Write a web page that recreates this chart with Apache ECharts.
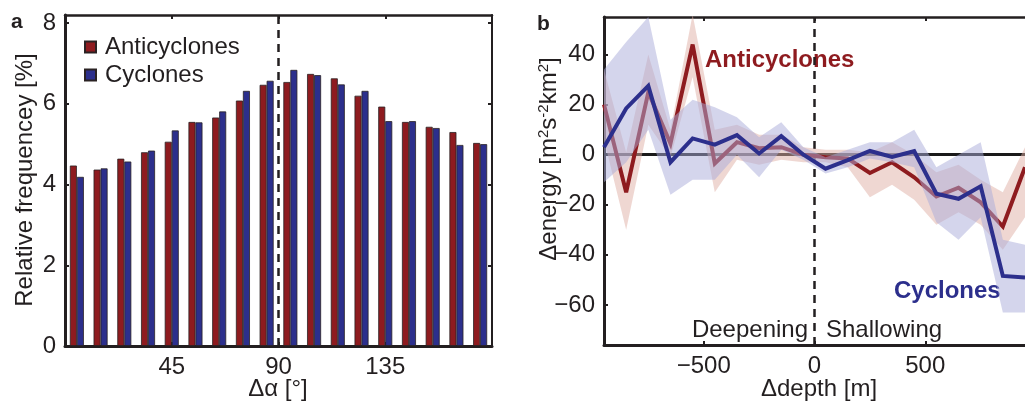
<!DOCTYPE html>
<html>
<head>
<meta charset="utf-8">
<script src="https://cdn.jsdelivr.net/npm/echarts@6/dist/echarts.min.js"></script>
<style>
  html, body { margin: 0; padding: 0; background: #fff; }
  #chart { width: 1025px; height: 403px; }
</style>
</head>
<body>
<div id="chart"></div>
<script>
  // panel a: orientation histogram, 10 degree bins
  const angleBins = ['5', '15', '25', '35', '45', '55', '65', '75', '85', '95', '105', '115', '125', '135', '145', '155', '165', '175'];
  const anticycFreq = [4.47, 4.37, 4.64, 4.80, 5.06, 5.55, 5.66, 6.08, 6.47, 6.54, 6.74, 6.63, 6.20, 5.93, 5.55, 5.43, 5.30, 5.03];
  const cycFreq = [4.19, 4.40, 4.57, 4.84, 5.34, 5.54, 5.81, 6.32, 6.57, 6.84, 6.71, 6.48, 6.32, 5.57, 5.57, 5.40, 4.98, 5.00];
  const angleTicks = [45, 90, 135];
  const freqTicks = [0, 2, 4, 6, 8];

  // panel b: energy change vs depth change, 100 m bins
  const depthBins = [-950, -850, -750, -650, -550, -450, -350, -250, -150, -50, 50, 150, 250, 350, 450, 550, 650, 750, 850, 950];
  const anticycEnergy = [20, -15, 25, 4.5, 44, -3.5, 5, 2.6, 3, 0, -1, -1.5, -7.3, -3, -9, -16.7, -13.2, -19, -28.7, -5];
  const anticycUpper = [34, 1, 40, 10, 56, 10, 12, 8, 8, 3, 2, 2, 1, 5, 0, -7, -4, -10, -15, 3];
  const anticycLower = [6, -30, 12, -1, 31, -15, -2, -4, -2, -3, -3, -5, -17, -12, -18, -28, -23, -28, -38, -25];
  const cycEnergy = [3, 18.5, 27.5, -3, 6.5, 4, 7.8, 0.5, 7.4, 0, -5.6, -2.2, 1.5, -0.9, 1.4, -15.6, -17.6, -12.6, -48.4, -49];
  const cycUpper = [34, 45, 55, 14, 22, 19, 15, 7, 13, 3, -1, 2, 5, 5, 10, -5, 0, 5, -34, -36];
  const cycLower = [-11, -3, 10, -16, -10, -10, 0, -9, 2, -2, -7.5, -5, -1.5, -3, -5, -27, -34, -25, -63, -63];
  const depthTicks = [-500, 0, 500];
  const energyTicks = [-60, -40, -20, 0, 20, 40];

  const red = '#8e1b1f';
  const blue = '#2c2f8c';
  const ink = '#231f20';
  const font = 'Liberation Sans';

  const spread = (up, lo) => up.map((v, i) => v - lo[i]);
  const minus = v => (v < 0 ? '\u2212' + Math.abs(v) : '' + v);

  const chart = echarts.init(document.getElementById('chart'));

  const line = w => ({ show: true, onZero: false, lineStyle: { color: ink, width: w } });
  const noLine = { show: false, onZero: false };
  const tickIn = vals => ({ show: true, inside: true, length: 4, customValues: vals, lineStyle: { color: ink, width: 2 } });
  const label = (vals, fmt) => ({ show: true, customValues: vals, margin: 9, fontSize: 24, fontFamily: font, color: ink, formatter: fmt || (v => '' + v) });
  const refLine = (xIdx, yIdx, item, style, z) => ({
    type: 'line', xAxisIndex: xIdx, yAxisIndex: yIdx, data: [], silent: true, z: z,
    markLine: { symbol: 'none', silent: true, z: z, label: { show: false }, lineStyle: style, data: [item] }
  });

  const option = {
    animation: false,
    backgroundColor: '#fff',
    grid: [
      { left: 65, top: 15, width: 427, height: 331 },
      { left: 604, top: 17, width: 430, height: 328 }
    ],
    legend: {
      data: ['Anticyclones', 'Cyclones'],
      orient: 'vertical',
      left: 84,
      top: 35,
      icon: 'rect',
      itemWidth: 11,
      itemHeight: 11,
      itemGap: 4,
      padding: 0,
      textStyle: { fontSize: 24, fontFamily: font, color: ink, padding: [0, 0, 0, 4] }
    },
    xAxis: [
      { type: 'category', gridIndex: 0, data: angleBins, axisLine: line(3),
        axisTick: { show: false }, axisLabel: { show: false } },
      { type: 'value', gridIndex: 0, min: 0, max: 180, position: 'bottom',
        axisLine: noLine, axisTick: tickIn(angleTicks), axisLabel: label(angleTicks),
        splitLine: { show: false } },
      { type: 'value', gridIndex: 0, min: 0, max: 180, position: 'top', axisLine: line(2.5),
        axisTick: tickIn(angleTicks), axisLabel: { show: false }, splitLine: { show: false } },
      { type: 'category', gridIndex: 1, data: depthBins, boundaryGap: false, axisLine: line(3),
        axisTick: { show: false }, axisLabel: { show: false } },
      { type: 'value', gridIndex: 1, min: -950, max: 950, position: 'bottom',
        axisLine: noLine, axisTick: tickIn(depthTicks), axisLabel: label(depthTicks, minus),
        splitLine: { show: false } },
      { type: 'value', gridIndex: 1, min: -950, max: 950, position: 'top', axisLine: line(2.5),
        axisTick: tickIn(depthTicks), axisLabel: { show: false }, splitLine: { show: false } }
    ],
    yAxis: [
      { type: 'value', gridIndex: 0, min: 0, max: 8.2, position: 'left', axisLine: line(3),
        axisTick: tickIn(freqTicks), axisLabel: label(freqTicks), splitLine: { show: false } },
      { type: 'value', gridIndex: 0, min: 0, max: 8.2, position: 'right', axisLine: line(2),
        axisTick: tickIn(freqTicks), axisLabel: { show: false }, splitLine: { show: false } },
      { type: 'value', gridIndex: 1, min: -76, max: 55, position: 'left', axisLine: line(3),
        axisTick: tickIn(energyTicks), axisLabel: label(energyTicks, minus), splitLine: { show: false } }
    ],
    series: [
      { name: 'Anticyclones', type: 'bar', xAxisIndex: 0, yAxisIndex: 0, data: anticycFreq,
        barWidth: 7, barGap: '0%',
        itemStyle: { color: red, borderColor: '#2a2223', borderWidth: 0.8 } },
      { name: 'Cyclones', type: 'bar', xAxisIndex: 0, yAxisIndex: 0, data: cycFreq,
        barWidth: 7, barGap: '0%',
        itemStyle: { color: blue, borderColor: '#2a2223', borderWidth: 0.8 } },
      refLine(1, 0, { xAxis: 90 }, { type: [8, 6], color: ink, width: 2.5 }, 5),

      // panel b reference lines (under the bands)
      refLine(4, 2, { yAxis: 0 }, { type: 'solid', color: '#1a1a1a', width: 3 }, 1),
      refLine(4, 2, { xAxis: 0 }, { type: [8, 6], color: ink, width: 2.5 }, 1),
      // anticyclone band + line
      { type: 'line', xAxisIndex: 3, yAxisIndex: 2, data: anticycLower, stack: 'anti', stackStrategy: 'all',
        symbol: 'none', silent: true, lineStyle: { opacity: 0 }, z: 2 },
      { type: 'line', xAxisIndex: 3, yAxisIndex: 2, data: spread(anticycUpper, anticycLower), stack: 'anti', stackStrategy: 'all',
        symbol: 'none', silent: true, lineStyle: { opacity: 0 },
        areaStyle: { color: 'rgb(223,175,165)', opacity: 0.5 }, z: 2 },
      { type: 'line', xAxisIndex: 3, yAxisIndex: 2, data: anticycEnergy, symbol: 'none',
        lineStyle: { color: red, width: 4, join: 'miter', miterLimit: 4 }, z: 3 },
      // cyclone band + line
      { type: 'line', xAxisIndex: 3, yAxisIndex: 2, data: cycLower, stack: 'cyc', stackStrategy: 'all',
        symbol: 'none', silent: true, lineStyle: { opacity: 0 }, z: 4 },
      { type: 'line', xAxisIndex: 3, yAxisIndex: 2, data: spread(cycUpper, cycLower), stack: 'cyc', stackStrategy: 'all',
        symbol: 'none', silent: true, lineStyle: { opacity: 0 },
        areaStyle: { color: 'rgb(170,172,218)', opacity: 0.5 }, z: 4 },
      { type: 'line', xAxisIndex: 3, yAxisIndex: 2, data: cycEnergy, symbol: 'none',
        lineStyle: { color: blue, width: 4, join: 'miter', miterLimit: 4 }, z: 5 }
    ],
    graphic: [
      { type: 'text', x: 11, y: 22, style: { text: 'a', font: 'bold 21px ' + font, fill: ink, verticalAlign: 'middle' } },
      { type: 'text', x: 537, y: 24, style: { text: 'b', font: 'bold 21px ' + font, fill: ink, verticalAlign: 'middle' } },
      { type: 'text', x: 25, y: 180, rotation: Math.PI / 2,
        style: { text: 'Relative frequencey [%]', font: '24px ' + font, fill: ink, align: 'center', verticalAlign: 'middle' } },
      { type: 'text', x: 278, y: 389,
        style: { text: '\u0394\u03b1 [\u00b0]', font: '24px ' + font, fill: ink, align: 'center', verticalAlign: 'middle' } },
      { type: 'text', x: 549, y: 159, rotation: Math.PI / 2,
        style: { text: '\u0394energy [m{sup|2}s{sup|-2}km{sup|2}]', font: '24px ' + font, fill: ink,
          align: 'center', verticalAlign: 'middle',
          rich: { sup: { fontSize: 15, fontFamily: font, fill: ink, verticalAlign: 'top', padding: [0, 0, 10, 0] } } } },
      { type: 'text', x: 819, y: 389,
        style: { text: '\u0394depth [m]', font: '24px ' + font, fill: ink, align: 'center', verticalAlign: 'middle' } },
      { type: 'text', x: 808, y: 330,
        style: { text: 'Deepening', font: '24px ' + font, fill: ink, align: 'right', verticalAlign: 'middle' } },
      { type: 'text', x: 826, y: 330,
        style: { text: 'Shallowing', font: '24px ' + font, fill: ink, align: 'left', verticalAlign: 'middle' } },
      { type: 'text', x: 705, y: 60,
        style: { text: 'Anticyclones', font: 'bold 24px ' + font, fill: red, align: 'left', verticalAlign: 'middle' } },
      { type: 'text', x: 894, y: 291,
        style: { text: 'Cyclones', font: 'bold 24px ' + font, fill: blue, align: 'left', verticalAlign: 'middle' } }
    ]
  };

  chart.setOption(option);
</script>
</body>
</html>
